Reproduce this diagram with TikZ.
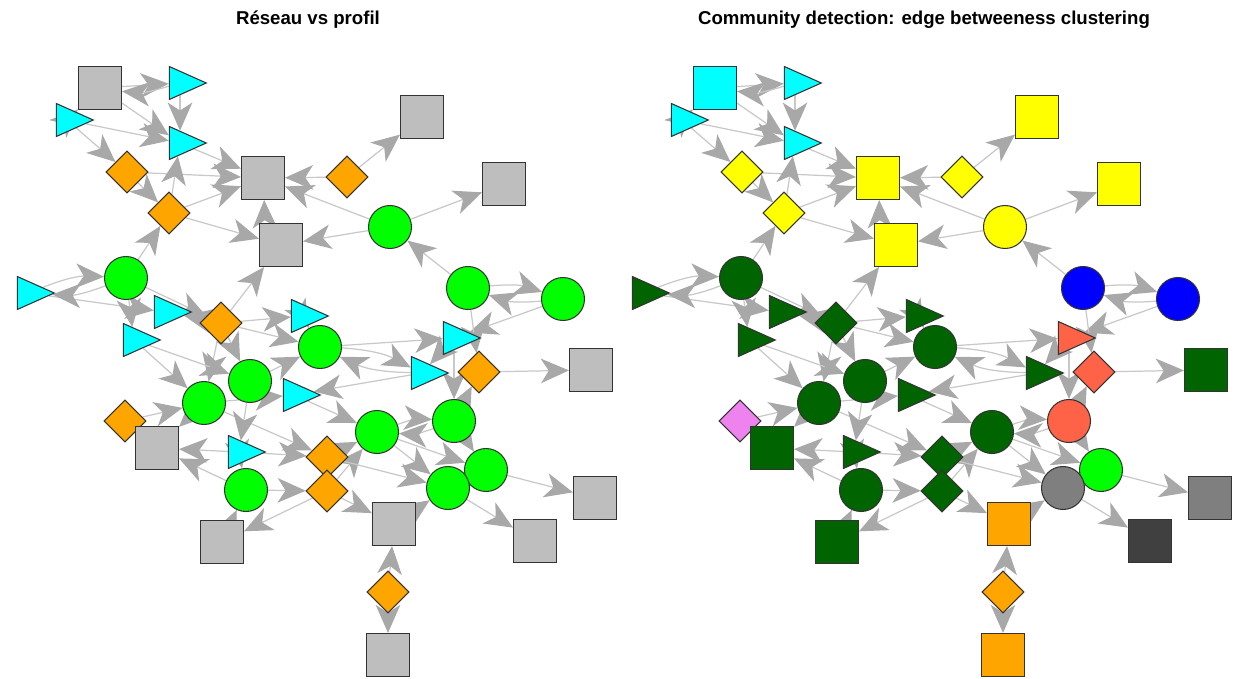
\documentclass[tikz,border=0pt]{standalone}
\usepackage{fontspec}
\setmainfont{Liberation Sans}
\usepackage{xcolor}
\usepackage{tikz}
\usetikzlibrary{arrows.meta, backgrounds, shapes.geometric}
\definecolor{vgrey}{RGB}{190,190,190}
\definecolor{vcyan}{RGB}{0,255,255}
\definecolor{vorange}{RGB}{255,165,0}
\definecolor{vgreen}{RGB}{0,255,0}
\definecolor{dgreen}{RGB}{0,100,0}
\definecolor{vyellow}{RGB}{255,255,0}
\definecolor{vblue}{RGB}{0,0,255}
\definecolor{vtomato}{RGB}{255,99,71}
\definecolor{vviolet}{RGB}{238,130,238}
\definecolor{mgrey}{RGB}{127,127,127}
\definecolor{dgrey}{RGB}{64,64,64}
\definecolor{edgec}{RGB}{200,200,200}
\definecolor{tipc}{RGB}{168,168,168}

\begin{document}
\begin{tikzpicture}[x=0.02cm, y=-0.02cm,
  vert/.style={draw=black!80, line width=0.6pt, inner sep=0pt},
  vsq/.style={vert, rectangle, minimum size=0.86cm},
  vcirc/.style={vert, circle, minimum size=0.86cm},
  vdia/.style={vert, diamond, minimum size=0.84cm},
  vtri/.style={vert, isosceles triangle, isosceles triangle stretches, shape border rotate=0, minimum width=0.66cm, minimum height=0.74cm},
  edge/.style={draw=edgec, line width=0.7pt, -{Stealth[length=16pt, width=14pt, inset=4.5pt, color=tipc]}},
  ttl/.style={font=\fontsize{10.6}{12}\selectfont\bfseries}]
\useasboundingbox (0,0) rectangle (1235,679);
\node[ttl] (t1) at (308,20) {Réseau vs profil};
\node[ttl] (t2) at (924,20) {Community detection: edge betweeness clustering};
% vertices: number / x / y / shape / left colour / right colour
\foreach \n/\x/\y/\s/\cl/\cr in {
  1/100/88/vsq/vgrey/vcyan, 2/180/83/vtri/vcyan/vcyan, 3/67/120/vtri/vcyan/vcyan,
  4/422/117/vsq/vgrey/vyellow, 5/180/143/vtri/vcyan/vcyan, 6/127/172/vdia/vorange/vyellow,
  7/263/178/vsq/vgrey/vyellow, 8/347/177/vdia/vorange/vyellow, 9/504/184/vsq/vgrey/vyellow,
  10/169/213/vdia/vorange/vyellow, 11/390/227/vcirc/vgreen/vyellow, 12/281/245/vsq/vgrey/vyellow,
  13/126/278/vcirc/vgreen/dgreen, 14/28/293/vtri/vcyan/dgreen, 15/468/288/vcirc/vgreen/vblue,
  16/563/299/vcirc/vgreen/vblue, 17/165/312/vtri/vcyan/dgreen, 18/221/323/vdia/vorange/dgreen,
  19/302/316/vtri/vcyan/dgreen, 20/134/340/vtri/vcyan/dgreen, 21/320/347/vcirc/vgreen/dgreen,
  22/454/338/vtri/vcyan/vtomato, 23/591/370/vsq/vgrey/dgreen, 24/422/373/vtri/vcyan/dgreen,
  25/479/372/vdia/vorange/vtomato, 26/250/381/vcirc/vgreen/dgreen, 27/204/403/vcirc/vgreen/dgreen,
  28/294/395/vtri/vcyan/dgreen, 29/125/421/vdia/vorange/vviolet, 30/377/432/vcirc/vgreen/dgreen,
  31/454/421/vcirc/vgreen/vtomato, 32/157/448/vsq/vgrey/dgreen, 33/239/452/vtri/vcyan/dgreen,
  34/327/457/vdia/vorange/dgreen, 35/486/470/vcirc/vgreen/vgreen, 36/246/490/vcirc/vgreen/dgreen,
  37/327/491/vdia/vorange/dgreen, 38/448/488/vcirc/vgreen/mgrey, 39/595/498/vsq/vgrey/mgrey,
  40/394/524/vsq/vgrey/vorange, 41/535/541/vsq/vgrey/dgrey, 42/222/542/vsq/vgrey/dgreen,
  43/388/592/vdia/vorange/vorange, 44/388/655/vsq/vgrey/vorange}{
  \node[\s, fill=\cl] (l\n) at (\x,\y) {};
  \node[\s, fill=\cr] (r\n) at (\x+615,\y) {};
}
% edges, behind the vertices
\begin{scope}[on background layer]
\foreach \a/\b in {1/2, 2/5, 3/1, 3/5, 3/6, 1/5, 5/7, 6/7, 10/7, 6/10, 10/5, 10/12,
  13/10, 8/7, 8/4, 11/9, 11/12, 11/7, 15/11, 16/22, 15/25, 18/12, 14/17, 13/20,
  13/18, 18/17, 20/27, 18/27, 18/26, 18/19, 18/21, 21/22, 24/28, 25/23, 22/31,
  31/25, 35/39, 38/41, 40/38, 37/40, 43/40, 43/44, 42/36, 37/42, 33/34, 33/32,
  36/32, 29/27, 27/28, 26/21, 28/30, 34/30, 30/35, 30/38, 37/30, 36/37, 27/34,
  26/33, 31/35, 34/38, 20/26, 33/36, 27/32, 19/21, 22/24}{
  \draw[edge] (l\a) -- (l\b);
  \draw[edge] (r\a) -- (r\b);
}
\foreach \a/\b in {15/16, 16/15, 13/14, 14/13, 21/24, 24/21, 30/31, 31/30, 2/1, 12/7}{
  \draw[edge] (l\a) to[bend left=12] (l\b);
  \draw[edge] (r\a) to[bend left=12] (r\b);
}
\end{scope}
\end{tikzpicture}
\end{document}
